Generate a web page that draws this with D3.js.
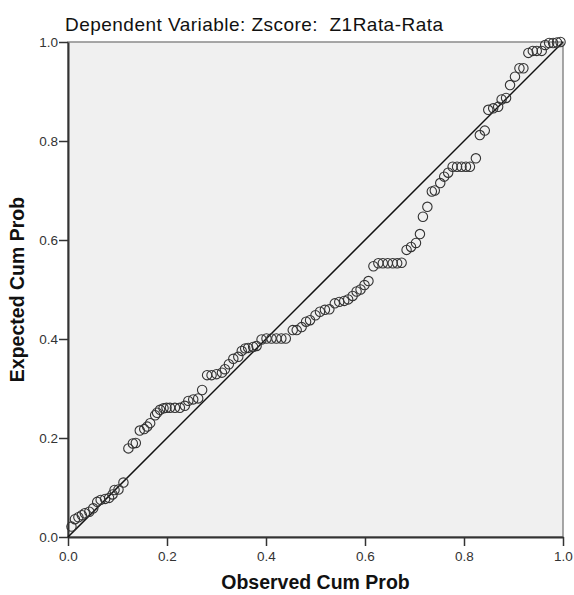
<!DOCTYPE html>
<html>
<head>
<meta charset="utf-8">
<script src="https://cdn.jsdelivr.net/npm/d3@7"></script>
<style>
  body { margin: 0; background: #fff; }
  svg { display: block; font-family: "Liberation Sans", Arial, sans-serif; }
</style>
</head>
<body>
<div id="chart"></div>
<script>
const TITLE = "Dependent Variable: Zscore:  Z1Rata-Rata";
const X_LABEL = "Observed Cum Prob";
const Y_LABEL = "Expected Cum Prob";
const TICKS = [0, 0.2, 0.4, 0.6, 0.8, 1.0];

// observed cum prob (x)
const observed = [
  .007, .014, .021, .028, .034, .043, .051, .059, .066, .075,
  .083, .090, .094, .102, .112, .122, .131, .137, .145, .154,
  .160, .166, .176, .180, .186, .193, .199, .206, .216, .226,
  .236, .243, .253, .263, .271, .281, .290, .300, .311, .317,
  .325, .334, .344, .351, .358, .364, .374, .381, .391, .401,
  .411, .421, .431, .440, .454, .462, .472, .481, .489, .500,
  .509, .519, .528, .539, .548, .558, .566, .575, .583, .591,
  .599, .607, .617, .627, .636, .646, .656, .665, .674, .684,
  .693, .703, .711, .717, .726, .735, .741, .752, .760, .768,
  .777, .786, .795, .804, .812, .824, .832, .842, .849, .859,
  .869, .876, .885, .893, .903, .912, .920, .930, .939, .947,
  .957, .964, .972, .980, .988, .995
];

// expected cum prob (y)
const expected = [
  .021, .036, .040, .044, .048, .051, .058, .071, .075, .077,
  .079, .086, .095, .096, .110, .179, .189, .190, .215, .218,
  .223, .230, .246, .251, .257, .260, .261, .261, .261, .261,
  .265, .275, .278, .280, .297, .327, .327, .329, .332, .339,
  .349, .360, .364, .376, .381, .382, .384, .386, .399, .401,
  .401, .401, .401, .401, .418, .418, .424, .435, .438, .448,
  .455, .459, .460, .472, .475, .477, .480, .487, .496, .500,
  .509, .517, .547, .553, .553, .553, .553, .553, .554, .580,
  .586, .594, .612, .647, .667, .698, .700, .715, .728, .736,
  .748, .748, .748, .748, .748, .765, .812, .821, .863, .866,
  .869, .884, .887, .913, .930, .947, .947, .978, .982, .982,
  .982, .994, .998, .998, .999, 1.0
];

const points = observed.map((o, i) => ({ o, e: expected[i] }));

const W = 574, H = 595;
const M = { left: 68, right: 563, top: 42, bottom: 537 };

const svg = d3.select("#chart").append("svg")
  .attr("width", W)
  .attr("height", H);

const x = d3.scaleLinear().domain([0, 1]).range([M.left, M.right]);
const y = d3.scaleLinear().domain([0, 1]).range([M.bottom, M.top]);

// plot background + frame
svg.append("rect")
  .attr("x", M.left).attr("y", M.top)
  .attr("width", M.right - M.left).attr("height", M.bottom - M.top)
  .attr("fill", "#f0f0f0")
  .attr("stroke", "#8a8a8a")
  .attr("stroke-width", 1.5);

// axes
const xAxis = svg.append("g")
  .attr("transform", `translate(0,${M.bottom})`)
  .call(d3.axisBottom(x).tickValues(TICKS).tickSize(9).tickSizeOuter(0)
    .tickFormat(d3.format(".1f")));

const yAxis = svg.append("g")
  .attr("transform", `translate(${M.left},0)`)
  .call(d3.axisLeft(y).tickValues(TICKS).tickSize(9).tickSizeOuter(0)
    .tickFormat(d3.format(".1f")));

[xAxis, yAxis].forEach((g) => {
  g.select(".domain").attr("stroke", "#333").attr("stroke-width", 2);
  g.selectAll(".tick line").attr("stroke", "#333").attr("stroke-width", 1.5);
  g.selectAll(".tick text")
    .attr("fill", "#333")
    .attr("font-size", "13.5px")
    .attr("font-family", "Liberation Sans, Arial, sans-serif");
});
xAxis.selectAll(".tick text").attr("dy", "0.95em").attr("y", 11);
yAxis.selectAll(".tick text").attr("x", -10);

// reference line
svg.append("line")
  .attr("x1", x(0)).attr("y1", y(0))
  .attr("x2", x(1)).attr("y2", y(1))
  .attr("stroke", "#111")
  .attr("stroke-width", 1.5);

// points
svg.append("g")
  .selectAll("circle")
  .data(points)
  .join("circle")
  .attr("cx", (d) => x(d.o))
  .attr("cy", (d) => y(d.e))
  .attr("r", 4.7)
  .attr("fill", "none")
  .attr("stroke", "#333")
  .attr("stroke-width", 1.1);

// title
svg.append("text")
  .attr("x", 65)
  .attr("y", 31)
  .attr("font-size", "19px")
  .attr("fill", "#111")
  .attr("textLength", 378)
  .attr("lengthAdjust", "spacing")
  .style("white-space", "pre")
  .text(TITLE);

// axis titles
svg.append("text")
  .attr("x", (M.left + M.right) / 2)
  .attr("y", 589)
  .attr("text-anchor", "middle")
  .attr("font-size", "19.5px")
  .attr("font-weight", "bold")
  .attr("fill", "#111")
  .text(X_LABEL);

svg.append("text")
  .attr("transform", `translate(24,${(M.top + M.bottom) / 2}) rotate(-90)`)
  .attr("text-anchor", "middle")
  .attr("font-size", "19.5px")
  .attr("font-weight", "bold")
  .attr("fill", "#111")
  .text(Y_LABEL);
</script>
</body>
</html>
